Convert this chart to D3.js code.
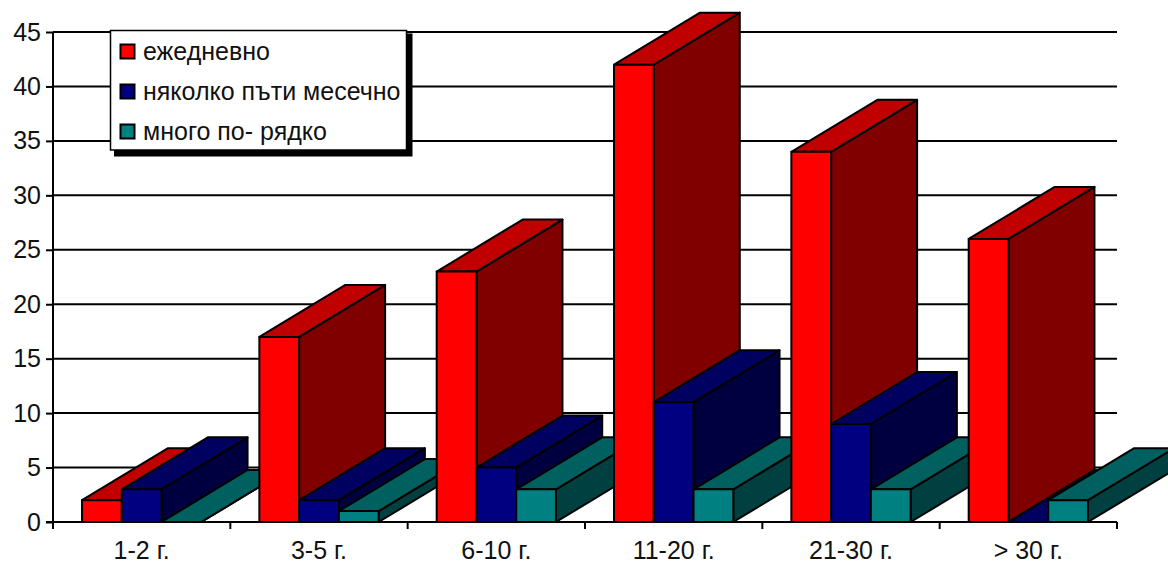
<!DOCTYPE html>
<html>
<head>
<meta charset="utf-8">
<script src="https://cdnjs.cloudflare.com/ajax/libs/d3/7.8.5/d3.min.js"></script>
<style>
html,body{margin:0;padding:0;background:#fff;overflow:hidden}
svg{display:block}
text{font-family:"Liberation Sans",Arial,sans-serif;fill:#111}
</style>
</head>
<body>
<svg id="chart" width="1168" height="561"></svg>
<script>
const categories = ["1-2 г.", "3-5 г.", "6-10 г.", "11-20 г.", "21-30 г.", "> 30 г."];
const seriesNames = ["ежедневно", "няколко пъти месечно", "много по- рядко"];
const daily = [2, 17, 23, 42, 34, 26];
const monthly = [3, 2, 5, 11, 9, 0];
const rarely = [0, 1, 3, 3, 3, 2];
const yTicks = [0, 5, 10, 15, 20, 25, 30, 35, 40, 45];
const frontColors = ["#ff0000", "#000080", "#008080"];
const topColors = ["#c00000", "#000060", "#006060"];
const sideColors = ["#800000", "#000040", "#004040"];

const seriesValues = [daily, monthly, rarely];
const depthX = 86, depthY = -52;
const stroke = "#000", strokeW = 2;
const fontSize = 25;

const svg = d3.select("#chart");
const x = d3.scaleBand().domain(categories).range([53, 1117]);
const xInner = d3.scaleBand().domain(seriesNames).range([0, x.bandwidth()]).paddingInner(0).paddingOuter(0.73);
const y = d3.scaleLinear().domain([0, 45]).range([522, 32]);

// horizontal gridlines sit behind the bars
svg.append("g").selectAll("line").data(yTicks.slice(1)).join("line")
  .attr("x1", 53).attr("x2", 1117)
  .attr("y1", d => y(d)).attr("y2", d => y(d))
  .attr("stroke", "#000").attr("stroke-width", 2);

const yAxis = d3.axisLeft(y).tickValues(yTicks).tickSize(7).tickPadding(5);
const yG = svg.append("g").attr("transform", "translate(53,0)").call(yAxis);
yG.selectAll("line,path").attr("stroke", "#000").attr("stroke-width", 2);
yG.select(".domain").attr("d", `M0,${y(45)}V${y(0)}`);
yG.selectAll("text").attr("font-size", fontSize).attr("font-family", '"Liberation Sans",Arial,sans-serif').attr("fill", "#111");

// extruded bars, painted left to right so nearer faces overlap
const poly = (g, pts, fill) => g.append("polygon")
  .attr("points", pts.map(p => p.join(",")).join(" "))
  .attr("fill", fill).attr("stroke", stroke).attr("stroke-width", strokeW).attr("stroke-linejoin", "round");

const bars = svg.append("g");
categories.forEach((cat, c) => {
  seriesNames.forEach((name, s) => {
    const v = seriesValues[s][c];
    const g = bars.append("g");
    const x0 = x(cat) + xInner(name), x1 = x0 + xInner.bandwidth();
    const yt = y(v), yb = y(0);
    poly(g, [[x1, yb], [x1, yt], [x1 + depthX, yt + depthY], [x1 + depthX, yb + depthY]], sideColors[s]);
    poly(g, [[x0, yt], [x1, yt], [x1 + depthX, yt + depthY], [x0 + depthX, yt + depthY]], topColors[s]);
    poly(g, [[x0, yb], [x1, yb], [x1, yt], [x0, yt]], frontColors[s]);
  });
});

// category axis with ticks on the band boundaries
const xAxis = svg.append("g");
xAxis.append("line").attr("x1", 46).attr("x2", 1117).attr("y1", y(0)).attr("y2", y(0))
  .attr("stroke", "#000").attr("stroke-width", 2);
xAxis.selectAll(".tick-mark").data(d3.range(categories.length + 1)).join("line")
  .attr("class", "tick-mark")
  .attr("x1", i => x.range()[0] + i * x.step()).attr("x2", i => x.range()[0] + i * x.step())
  .attr("y1", y(0)).attr("y2", y(0) + 7)
  .attr("stroke", "#000").attr("stroke-width", 2);
xAxis.selectAll("text").data(categories).join("text")
  .attr("x", d => x(d) + x.bandwidth() / 2).attr("y", 559)
  .attr("text-anchor", "middle").attr("font-size", fontSize).text(d => d);

// legend box with a hard drop shadow
const legend = svg.append("g");
legend.append("rect").attr("x", 114).attr("y", 33.5).attr("width", 298.5).attr("height", 123).attr("fill", "#000");
legend.append("rect").attr("x", 110.5).attr("y", 30.5).attr("width", 296).attr("height", 119.5)
  .attr("fill", "#fff").attr("stroke", "#000").attr("stroke-width", 1.5);
seriesNames.forEach((name, i) => {
  const cy = 52 + i * 40;
  legend.append("rect").attr("x", 120.5).attr("y", cy - 7.5).attr("width", 14).attr("height", 14)
    .attr("fill", frontColors[i]).attr("stroke", "#000").attr("stroke-width", 2);
  legend.append("text").attr("x", 143).attr("y", cy + 8).attr("font-size", fontSize).text(name);
});
</script>
</body>
</html>
